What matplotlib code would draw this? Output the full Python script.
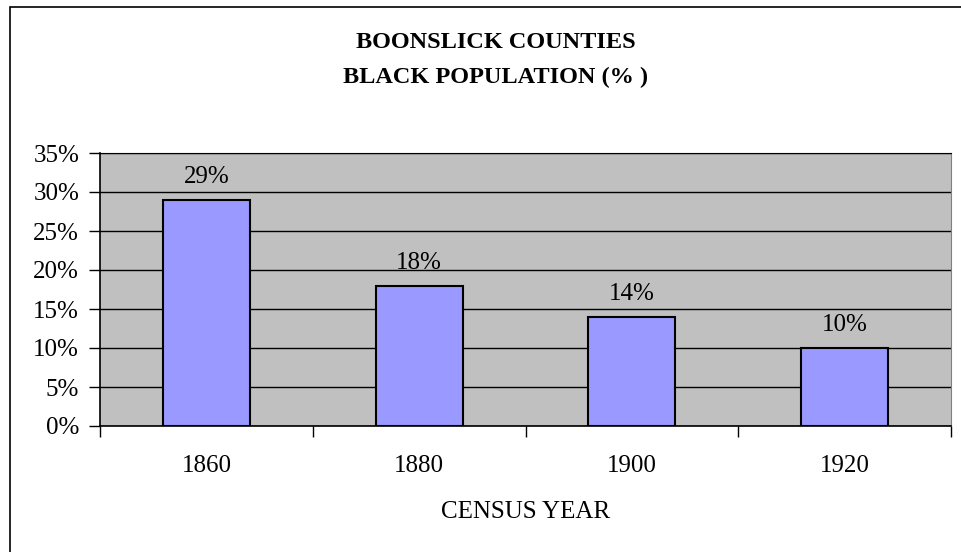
import numpy as np
import matplotlib.pyplot as plt
from matplotlib.patches import Rectangle
from matplotlib.ticker import FuncFormatter

years = ['1860', '1880', '1900', '1920']
black_pct = [29, 18, 14, 10]
y_ticks = [0, 5, 10, 15, 20, 25, 30, 35]

plt.rcParams['font.family'] = ['Liberation Serif', 'DejaVu Serif']

W, H = 961, 552
fig = plt.figure(figsize=(W / 100, H / 100), dpi=100)
fig.patch.set_facecolor('white')

# outer chart border (runs off the right and bottom edges)
fig.patches.append(Rectangle((10 / W, -0.05), 1.2, 1 - 7 / H + 0.05,
                             transform=fig.transFigure, fill=False,
                             edgecolor='black', linewidth=1.2))

ax = fig.add_axes([100 / W, (H - 426) / H, 851 / W, (426 - 153) / H])
ax.set_facecolor('#c0c0c0')

x = np.arange(len(years))
ax.bar(x, black_pct, width=0.41, color='#9999ff', edgecolor='black',
       linewidth=1.5, zorder=3)
for xi, v in zip(x, black_pct):
    ax.text(xi, v + 1.5, f'{v}%', ha='center', va='bottom', fontsize=18,
            zorder=4)

ax.set_xlim(-0.5, len(years) - 0.5)
ax.set_ylim(0, 35)
ax.set_yticks(y_ticks)
ax.yaxis.set_major_formatter(FuncFormatter(lambda v, p: f'{int(v)}%'))
ax.grid(axis='y', color='black', linewidth=1.0, zorder=1)
ax.set_axisbelow(True)

ax.set_xticks(x)
ax.set_xticklabels(years, fontsize=18)
ax.set_xticks(np.arange(-0.5, len(years)), minor=True)
ax.tick_params(axis='x', which='major', length=0, pad=21)
ax.tick_params(axis='x', which='minor', length=8, width=1, direction='out')
ax.tick_params(axis='y', length=8, width=1, direction='out', labelsize=18,
               pad=7)

for s in ['left', 'bottom']:
    ax.spines[s].set_color('black')
    ax.spines[s].set_linewidth(1.2)
ax.spines['right'].set_color('#808080')
ax.spines['top'].set_color('black')

ax.set_xlabel('CENSUS YEAR', fontsize=18, labelpad=17)

fig.text(0.5 + 15 / W, 1 - 43 / H, 'BOONSLICK COUNTIES', ha='center',
         va='center', fontsize=17.5, fontweight='bold')
fig.text(0.5 + 15 / W, 1 - 77 / H, 'BLACK POPULATION (% )', ha='center',
         va='center', fontsize=17.5, fontweight='bold')

fig.savefig('out.png', dpi=100)
